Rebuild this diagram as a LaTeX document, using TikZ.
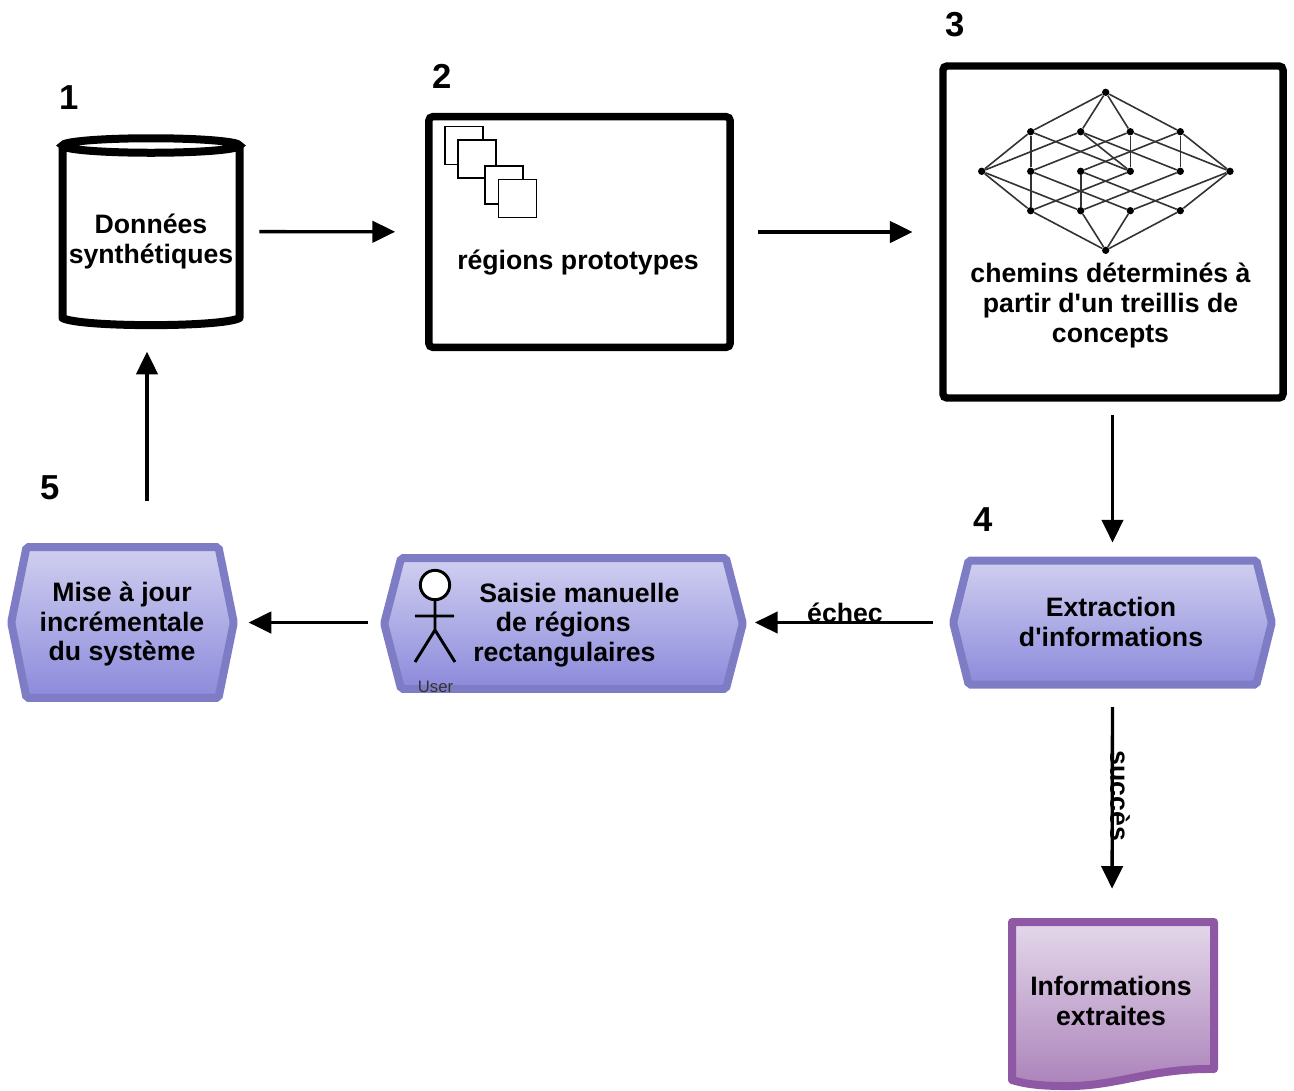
\documentclass[tikz,border=0pt]{standalone}
\usepackage{fontspec}
\setmainfont{Liberation Sans}
\usetikzlibrary{arrows.meta,shapes.symbols}
\definecolor{hexline}{HTML}{7F7CC6}
\definecolor{hextop}{HTML}{D0CFF0}
\definecolor{hexbot}{HTML}{8C8ADB}
\definecolor{docline}{HTML}{8F58A5}
\definecolor{doctop}{HTML}{E4D8EA}
\definecolor{docbot}{HTML}{AB82BA}
\tikzset{
  label/.style={font=\fontsize{20}{22.2}\selectfont\bfseries, align=center, inner sep=0.75pt},
  number/.style={font=\fontsize{26}{28}\selectfont\bfseries, inner sep=0.75pt},
  flow/.style={line width=2.5pt, -{Triangle[length=17pt,width=16pt]}},
  framebox/.style={draw, line width=5.6pt, rounded corners=3pt, fill=white},
  hexbox/.style={signal, signal to=east and west, draw=hexline, line width=6pt, rounded corners=1.5pt,
    top color=hextop, bottom color=hexbot, inner sep=0pt},
  sheet/.style={draw, line width=0.8pt, fill=white, minimum size=28.5pt, inner sep=0pt},
  dot/.style={circle, fill=black, minimum size=5.5pt, inner sep=0pt},
}
\begin{document}
\begin{tikzpicture}[x=0.75pt,y=0.75pt,yscale=-1,xscale=1]
    \useasboundingbox (0,0) rectangle (1294,1090);

    %Shape: data store
    \draw [line width=6pt, line join=round, line cap=round] (62.5,145.5) -- (62.5,318) .. controls (80,327.5) and (222,327.5) .. (239.5,318) -- (239.5,145.5);
    \draw [line width=6pt] (151,145.5) ellipse [x radius=88.5, y radius=7.25];
    \node (data) at (151,231.5) [minimum width=138pt, minimum height=146pt, inner sep=0pt] {};
    \node (datalabel) at (151,241.5) [label] {Données\\synthétiques};

    %Shape: frames
    \node (regions) at (579.5,232) [framebox, minimum width=226pt, minimum height=173pt] {};
    \node (paths) at (1113,232) [framebox, minimum width=255pt, minimum height=249pt] {};

    %Shape: stacked sheets
    \node (sheeta) at (464,145.5) [sheet] {};
    \node (sheetb) at (477,159) [sheet] {};
    \node (sheetc) at (504,185) [sheet] {};
    \node (sheetd) at (517.5,198.5) [sheet] {};
    \node (regionslabel) at (578,263) [label] {régions prototypes};

    %Shape: lattice
    \foreach \name/\xpos/\ypos in {top/1105.7/92.3, ua/1030.7/131.7, ub/1080.7/131.7, uc/1130.3/131.7, ud/1180.3/131.7,
        left/981.7/171.3, ma/1030.7/171.3, mb/1080.7/171.3, mc/1130.3/171.3, md/1180.3/171.3, right/1230/171.3,
        la/1030.7/210.7, lb/1080.7/210.7, lc/1130.3/210.7, ld/1180.3/210.7, bot/1105.7/250.3}
      \node (\name) at (\xpos,\ypos) [dot] {};
    \foreach \from/\to in {top/ua, top/ub, top/uc, top/ud, left/ua, left/ub, left/la, left/lb,
        right/uc, right/ud, right/lc, right/ld, ua/ma, ua/mc, ub/mc, ub/md, uc/ma, uc/mc, ud/mb, ud/md,
        ma/la, ma/lc, mb/lb, mb/ld, mc/la, md/lb, bot/la, bot/lb, bot/lc, bot/ld}
      \draw [line width=1.2pt, black!80] (\from) -- (\to);
    \node (pathslabel) at (1110.5,305.5) [label] {chemins déterminés à\\partir d\textquotesingle un treillis de\\concepts};

    %Shape: hexagons
    \node (extract) at (1112.5,622.5) [hexbox, minimum width=239pt, minimum height=93pt, signal pointer angle=152] {};
    \node (extractlabel) at (1111,622) [label] {Extraction\\d\textquotesingle informations};
    \node (manual) at (563.5,623.5) [hexbox, minimum width=269pt, minimum height=98pt, signal pointer angle=151] {};
    \node (update) at (122.5,622.5) [hexbox, minimum width=167pt, minimum height=113pt, signal pointer angle=157] {};
    \node (updatelabel) at (122,624) [label] {Mise à jour\\incrémentale\\du système};

    %Shape: actor
    \node (head) at (435,585) [circle, draw, line width=2.2pt, fill=white, minimum size=22pt, inner sep=0pt] {};
    \coordinate (hip) at (435,630);
    \coordinate (arml) at (415,616);
    \coordinate (armr) at (454,616);
    \coordinate (footl) at (415,662);
    \coordinate (footr) at (455,662);
    \draw [line width=2.2pt] (head) -- (hip) (arml) -- (armr) (footl) -- (hip) -- (footr);
    \node (user) at (435.5,687) [font=\fontsize{12.5}{13}\selectfont, text=black!80, inner sep=0pt] {User};
    \node (manuallabel) at (472,625) [label, anchor=west, align=left] {\hspace*{4.5pt}Saisie manuelle\\\hspace*{17pt}de régions\\rectangulaires};

    %Shape: extracted document
    \draw [draw=docline, line width=6pt, line join=round, top color=doctop, bottom color=docbot]
      (1012,922) -- (1214,922) -- (1214,1069) .. controls (1150,1068) and (1115,1087) .. (1065,1086) .. controls (1040,1086) and (1025,1084) .. (1012,1080) -- cycle;
    \node (info) at (1111,1001) [label] {Informations\\extraites};

    %Shape: numbers
    \node (numa) at (69,98) [number] {1};
    \node (numb) at (442,76) [number] {2};
    \node (numc) at (955,25) [number] {3};
    \node (numd) at (983,520) [number] {4};
    \node (nume) at (50,488) [number] {5};

    %Straight Lines
    \coordinate (updateout) at (147,544);
    \coordinate (datain) at (147,329);
    \coordinate (infotop) at (1112,918);
    \draw [flow, shorten <=12pt, shorten >=22.5pt] (data) -- (regions);
    \draw [flow, shorten <=18pt, shorten >=20pt] (regions) -- (paths);
    \draw [flow, shorten <=10pt, shorten >=10.5pt] (paths.south -| extract) -- (extract.north);
    \draw [flow, shorten <=12pt, shorten >=6pt] (extract) -- (manual.east |- extract);
    \draw [flow, shorten <=9pt, shorten >=8pt] (manual.west |- update) -- (update);
    \draw [flow, shorten <=32pt, shorten >=17pt] (updateout) -- (datain);
    \draw [flow, shorten <=14pt, shorten >=22pt] (extract.south) -- (infotop);

    % Text Node
    \node (fail) at (845,613) [label] {échec};
    % Text Node
    \node (success) at (1120,796) [label, rotate=-90] {succès};
\end{tikzpicture}
\end{document}
